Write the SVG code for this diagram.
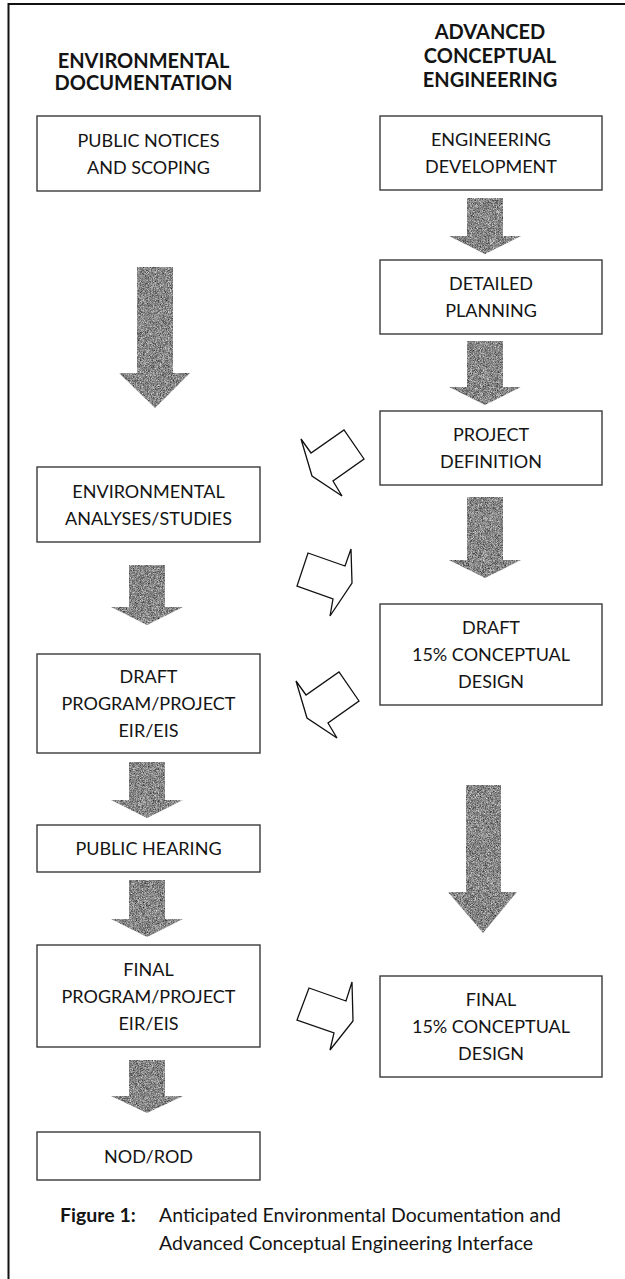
<svg xmlns="http://www.w3.org/2000/svg" width="625" height="1279" viewBox="0 0 625 1279">
  <defs>
    <style>
      .box { fill: #ffffff; stroke: #3a3a3a; stroke-width: 1.4; }
      .lbl { font-family: Lato, "Open Sans", "Liberation Sans", sans-serif; font-size: 18px; fill: #141414; text-anchor: middle; }
      .hdr { font-family: Lato, "Open Sans", "Liberation Sans", sans-serif; font-size: 20px; font-weight: bold; fill: #141414; text-anchor: middle; }
      .cap { font-family: Lato, "Open Sans", "Liberation Sans", sans-serif; font-size: 19.5px; fill: #141414; }
      .solid { fill: #8a8a8a; }
      .hollow { fill: #ffffff; stroke: #111111; stroke-width: 1.3; stroke-linejoin: miter; }
      .frame { stroke: #111111; stroke-width: 2; fill: none; }
    </style>
    <!-- fine stippled grey texture for the solid block arrows -->
    <filter id="grain" x="0" y="0" width="100%" height="100%" color-interpolation-filters="sRGB">
      <feTurbulence type="fractalNoise" baseFrequency="1.4" numOctaves="2" seed="7" result="noise"/>
      <feColorMatrix in="noise" type="saturate" values="0" result="mono"/>
      <feComponentTransfer in="mono" result="tone">
        <feFuncR type="linear" slope="1.3" intercept="-0.12"/>
        <feFuncG type="linear" slope="1.3" intercept="-0.12"/>
        <feFuncB type="linear" slope="1.3" intercept="-0.12"/>
        <feFuncA type="linear" slope="0" intercept="1"/>
      </feComponentTransfer>
      <feComposite in="tone" in2="SourceGraphic" operator="in"/>
    </filter>
  </defs>

  <rect x="0" y="0" width="625" height="1279" fill="#ffffff"/>

  <!-- page frame -->
  <path class="frame" d="M8.5 1279 V4 H625"/>

  <!-- column headings -->
  <g id="heading-env">
    <text class="hdr" x="143.5" y="68">ENVIRONMENTAL</text>
    <text class="hdr" x="143.5" y="90">DOCUMENTATION</text>
  </g>
  <g id="heading-eng">
    <text class="hdr" x="490" y="39">ADVANCED</text>
    <text class="hdr" x="490" y="63">CONCEPTUAL</text>
    <text class="hdr" x="490" y="87">ENGINEERING</text>
  </g>

  <!-- connectors -->
  <g id="connectors">
    <g filter="url(#grain)">
      <!-- right column, solid block arrows -->
      <polygon class="solid" points="467,198 503,198 503,236 521,236 485,254 449,236 467,236"/>
      <polygon class="solid" points="467,341 503,341 503,387 521,387 485,405 449,387 467,387"/>
      <polygon class="solid" points="467,497 503,497 503,560 521,560 485,578 449,560 467,560"/>
      <polygon class="solid" points="466,785 501,785 501,892 517,892 483,933 448,892 466,892"/>
      <!-- left column, solid block arrows -->
      <polygon class="solid" points="137,267 173,267 173,373 190,373 155,408 119,373 137,373"/>
      <polygon class="solid" points="129,565 165,565 165,607 183,607 147,625 111,607 129,607"/>
      <polygon class="solid" points="129,762 165,762 165,800 183,800 147,818 111,800 129,800"/>
      <polygon class="solid" points="129,880 165,880 165,919 183,919 147,937 111,919 129,919"/>
      <polygon class="solid" points="129,1060 165,1060 165,1096 183,1096 147,1113 111,1096 129,1096"/>
    </g>
    <!-- outlined arrows between the two columns -->
    <polygon class="hollow" points="301,439 311,453 344,430 364,459 333,481 342,496 312,476"/>
    <polygon class="hollow" points="308,553 345,566 351,549 352,583 330,616 333,599 297,586"/>
    <polygon class="hollow" points="296,681 306,695 339,672 359,701 328,723 337,738 307,718"/>
    <polygon class="hollow" points="309,988 346,1001 352,982 353,1021 330,1050 334,1033 297,1020"/>
  </g>

  <!-- environmental documentation column -->
  <g id="public-notices">
    <rect class="box" x="37" y="116" width="223" height="75"/>
    <text class="lbl" x="148.5" y="146.5">PUBLIC NOTICES</text>
    <text class="lbl" x="148.5" y="173.5">AND SCOPING</text>
  </g>
  <g id="env-analyses">
    <rect class="box" x="37" y="467" width="223" height="75"/>
    <text class="lbl" x="148.5" y="497.5">ENVIRONMENTAL</text>
    <text class="lbl" x="148.5" y="524.5">ANALYSES/STUDIES</text>
  </g>
  <g id="draft-eir">
    <rect class="box" x="37" y="654" width="223" height="99"/>
    <text class="lbl" x="148.5" y="683">DRAFT</text>
    <text class="lbl" x="148.5" y="710">PROGRAM/PROJECT</text>
    <text class="lbl" x="148.5" y="737">EIR/EIS</text>
  </g>
  <g id="public-hearing">
    <rect class="box" x="37" y="825" width="223" height="47"/>
    <text class="lbl" x="148.5" y="855">PUBLIC HEARING</text>
  </g>
  <g id="final-eir">
    <rect class="box" x="37" y="945" width="223" height="102"/>
    <text class="lbl" x="148.5" y="975.5">FINAL</text>
    <text class="lbl" x="148.5" y="1002.5">PROGRAM/PROJECT</text>
    <text class="lbl" x="148.5" y="1029.5">EIR/EIS</text>
  </g>
  <g id="nod-rod">
    <rect class="box" x="37" y="1132" width="223" height="48"/>
    <text class="lbl" x="148.5" y="1162.5">NOD/ROD</text>
  </g>

  <!-- advanced conceptual engineering column -->
  <g id="eng-development">
    <rect class="box" x="380" y="116" width="222" height="74"/>
    <text class="lbl" x="491" y="146">ENGINEERING</text>
    <text class="lbl" x="491" y="173">DEVELOPMENT</text>
  </g>
  <g id="detailed-planning">
    <rect class="box" x="380" y="260" width="222" height="74"/>
    <text class="lbl" x="491" y="290">DETAILED</text>
    <text class="lbl" x="491" y="317">PLANNING</text>
  </g>
  <g id="project-definition">
    <rect class="box" x="380" y="411" width="222" height="74"/>
    <text class="lbl" x="491" y="441">PROJECT</text>
    <text class="lbl" x="491" y="468">DEFINITION</text>
  </g>
  <g id="draft-design">
    <rect class="box" x="380" y="604" width="222" height="101"/>
    <text class="lbl" x="491" y="634">DRAFT</text>
    <text class="lbl" x="491" y="661">15% CONCEPTUAL</text>
    <text class="lbl" x="491" y="688">DESIGN</text>
  </g>
  <g id="final-design">
    <rect class="box" x="380" y="976" width="222" height="101"/>
    <text class="lbl" x="491" y="1006">FINAL</text>
    <text class="lbl" x="491" y="1033">15% CONCEPTUAL</text>
    <text class="lbl" x="491" y="1060">DESIGN</text>
  </g>

  <!-- caption -->
  <g id="caption">
    <text class="cap" x="60" y="1222" font-weight="bold">Figure 1:</text>
    <text class="cap" x="159" y="1222">Anticipated Environmental Documentation and</text>
    <text class="cap" x="159" y="1250">Advanced Conceptual Engineering Interface</text>
  </g>
</svg>
